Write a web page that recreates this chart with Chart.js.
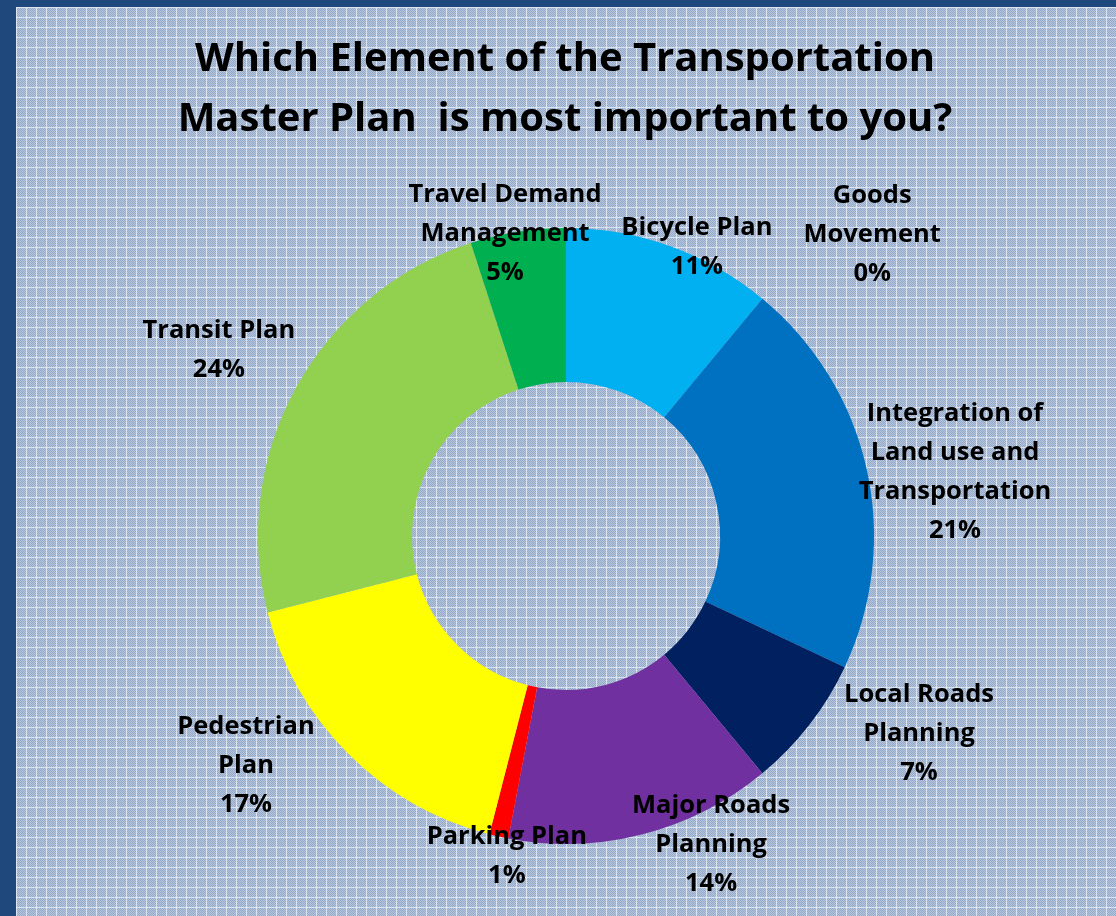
<!DOCTYPE html>
<html>
<head>
<meta charset="utf-8">
<script src="https://cdn.jsdelivr.net/npm/chart.js@4.4.0/dist/chart.umd.min.js"></script>
<style>
  html, body { margin: 0; padding: 0; background: #1F497D; }
  canvas { display: block; }
</style>
</head>
<body>
<canvas id="chart" width="1116" height="916"></canvas>
<script>
const categories = [
  "Bicycle Plan",
  "Goods Movement",
  "Integration of Land use and Transportation",
  "Local Roads Planning",
  "Major Roads Planning",
  "Parking Plan",
  "Pedestrian Plan",
  "Transit Plan",
  "Travel Demand Management"
];
const shares = [11, 0, 21, 7, 14, 1, 17, 24, 5];
const sliceColors = ["#00B0F0", "#FFFFFF", "#0070C0", "#002060", "#7030A0", "#FF0000", "#FFFF00", "#92D050", "#00B050"];
const titleLines = ["Which Element of the Transportation", "Master Plan  is most important to you?"];

// label text lines and where they sit, as multiples of the outer radius from the centre
const labelLines = [
  ["Bicycle Plan"],
  ["Goods", "Movement"],
  ["Integration of", "Land use and", "Transportation"],
  ["Local Roads", "Planning"],
  ["Major Roads", "Planning"],
  ["Parking Plan"],
  ["Pedestrian", "Plan"],
  ["Transit Plan"],
  ["Travel Demand", "Management"]
];
const labelSpots = [
  [0.425, -0.938], [0.994, -0.977], [1.263, -0.208], [1.146, 0.643], [0.471, 1.003],
  [-0.192, 1.039], [-1.039, 0.747], [-1.127, -0.604], [-0.198, -0.981]
];

function makePattern(ctx) {
  const tile = document.createElement("canvas");
  tile.width = 10;
  tile.height = 10;
  const t = tile.getContext("2d");
  t.fillStyle = "#94AACA";
  t.fillRect(0, 0, 10, 10);
  t.fillStyle = "#B6C5DC";
  for (let y = 1; y < 10; y++) {
    for (let x = 1; x < 10; x++) {
      if ((x + y) % 2 === 0) t.fillRect(x, y, 1, 1);
    }
  }
  t.fillStyle = "#DCE4F0";
  t.fillRect(0, 0, 10, 1);
  t.fillRect(0, 0, 1, 10);
  return ctx.createPattern(tile, "repeat");
}

const backdrop = {
  id: "backdrop",
  beforeDraw(chart) {
    const ctx = chart.ctx;
    ctx.save();
    ctx.fillStyle = "#1F497D";
    ctx.fillRect(0, 0, chart.width, chart.height);
    ctx.translate(16, 7);
    ctx.fillStyle = makePattern(ctx);
    ctx.fillRect(0, 0, chart.width - 16, chart.height - 7);
    ctx.restore();
  }
};

// the built-in title squeezes text to the chart width, so draw it here
const bigTitle = {
  id: "bigTitle",
  afterDraw(chart) {
    const ctx = chart.ctx;
    const arc = chart.getDatasetMeta(0).data[0];
    ctx.save();
    ctx.font = "bold 40px 'Open Sans'";
    ctx.fillStyle = "#000";
    ctx.textAlign = "center";
    ctx.textBaseline = "middle";
    titleLines.forEach((txt, k) => ctx.fillText(txt, arc.x - 1, 60 + k * 60));
    ctx.restore();
  }
};

const sliceLabels = {
  id: "sliceLabels",
  afterDraw(chart) {
    const ctx = chart.ctx;
    const arc = chart.getDatasetMeta(0).data[0];
    const cx = arc.x, cy = arc.y, r = arc.outerRadius;
    ctx.save();
    ctx.font = "bold 25.5px 'Open Sans'";
    ctx.fillStyle = "#000";
    ctx.textAlign = "center";
    ctx.textBaseline = "middle";
    labelLines.forEach((lines, i) => {
      const all = lines.concat([shares[i] + "%"]);
      const x = cx + labelSpots[i][0] * r;
      const y0 = cy + labelSpots[i][1] * r - (all.length - 1) * 39 / 2;
      all.forEach((txt, k) => ctx.fillText(txt, x, y0 + k * 39));
    });
    ctx.restore();
  }
};

new Chart(document.getElementById("chart"), {
  type: "doughnut",
  data: {
    labels: categories,
    datasets: [{
      data: shares,
      backgroundColor: sliceColors,
      borderWidth: 0
    }]
  },
  options: {
    responsive: false,
    animation: false,
    cutout: "50%",
    layout: { padding: { top: 228, bottom: 72, left: 258, right: 242 } },
    plugins: {
      legend: { display: false },
      tooltip: { enabled: false },
      title: { display: false }
    }
  },
  plugins: [backdrop, sliceLabels, bigTitle]
});
</script>
</body>
</html>
